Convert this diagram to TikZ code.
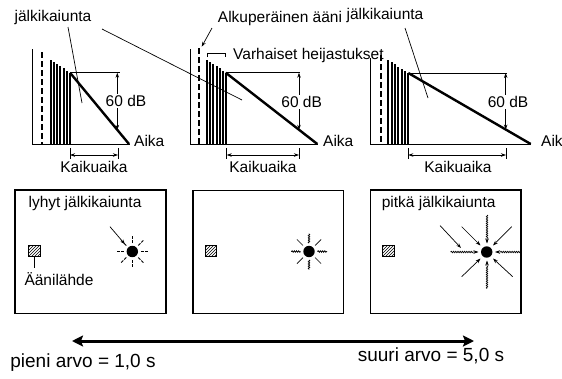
\documentclass[tikz,border=0pt]{standalone}
\usepackage{fontspec}
\setmainfont{Liberation Sans}
\usetikzlibrary{arrows.meta,patterns,decorations.pathmorphing}
\begin{document}
\begin{tikzpicture}[x=1pt,y=-1pt,
  lbl/.style={inner sep=0pt, font=\fontsize{15.5}{18}\selectfont},
  biglbl/.style={inner sep=0pt, font=\fontsize{19}{22}\selectfont},
  axisline/.style={line width=0.9pt},
  barline/.style={line width=2pt},
  decayline/.style={line width=2.4pt},
  dashline/.style={line width=2pt, dash pattern=on 6pt off 3pt},
  thinline/.style={line width=0.7pt},
  dimarrow/.style={line width=0.7pt, {Stealth[length=5pt,width=3.5pt]}-{Stealth[length=5pt,width=3.5pt]}},
  ptr/.style={line width=0.7pt, -{Stealth[length=5pt,width=3.5pt]}},
  roombox/.style={line width=1.6pt},
  srcbox/.style={pattern=north east lines, draw=black, line width=0.6pt},
  raydash/.style={line width=0.9pt, dash pattern=on 3pt off 1.2pt},
  wavy/.style={line width=0.8pt, decorate, decoration={snake, amplitude=0.7pt, segment length=2.2pt}},
  wavyarrow/.style={line width=0.7pt, -{Stealth[length=5pt,width=3.5pt]}, decorate, decoration={snake, amplitude=0.7pt, segment length=2.2pt, post length=5pt}},
  bigarrow/.style={line width=3pt, {Stealth[length=11pt,width=11pt,inset=2pt]}-{Stealth[length=11pt,width=11pt,inset=2pt]}}
]
\useasboundingbox (0,0) rectangle (562,378);

% ---------- Graph 1 ----------
\draw[axisline] (32.7,49) -- (32.7,144) -- (130,144);
\draw[dashline] (41.7,52) -- (41.7,144);
\foreach \i in {0,...,6} \draw[barline] ({50.7+\i*(70-50.7)/6},144) -- ({50.7+\i*(70-50.7)/6},{60+\i*12.7/6});
\draw[decayline] (70,72.7) -- (129,144);
\draw[thinline] (70,72.7) -- (120,72.7);
\draw[dimarrow] (117.3,72.7) -- (117.3,129.9);
\node[lbl, fill=white, inner sep=1pt] (db1) at (126,101) {60 dB};
\node[lbl, anchor=west] (aika1) at (134,141) {Aika};
\draw[thinline] (70,148) -- (70,159);
\draw[thinline] (118,148) -- (118,159);
\draw[dimarrow] (70,155) -- (118,155);
\node[lbl] (kk1) at (94,167) {Kaikuaika};

% ---------- Graph 2 ----------
\draw[axisline] (190,49) -- (190,144) -- (318,144);
\draw[dashline] (199,48) -- (199,144);
\foreach \i in {0,...,6} \draw[barline] ({207.3+\i*(225.7-207.3)/6},144) -- ({207.3+\i*(225.7-207.3)/6},{60+\i*12.7/6});
\draw[decayline] (225.7,72.7) -- (317.3,144);
\draw[thinline] (225.7,72.7) -- (300,72.7);
\draw[dimarrow] (299,72.7) -- (299,129.8);
\node[lbl, fill=white, inner sep=1pt] (db2) at (301.7,102) {60 dB};
\node[lbl, anchor=west] (aika2) at (323,141) {Aika};
\draw[thinline] (226.7,148) -- (226.7,159);
\draw[thinline] (299,148) -- (299,159);
\draw[dimarrow] (226.7,155) -- (299,155);
\node[lbl] (kk2) at (263,167) {Kaikuaika};

% ---------- Graph 3 ----------
\draw[axisline] (370.7,58) -- (370.7,144) -- (531,144);
\draw[dashline] (380.7,55) -- (380.7,144);
\foreach \i in {0,...,6} \draw[barline] ({388.3+\i*(408.3-388.3)/6},144) -- ({388.3+\i*(408.3-388.3)/6},{60+\i*13/6});
\draw[decayline] (408.3,73) -- (530.7,144);
\draw[thinline] (408.3,73) -- (506.7,73);
\draw[dimarrow] (505.7,73) -- (505.7,129.5);
\node[lbl, fill=white, inner sep=1pt] (db3) at (508,102) {60 dB};
\node[lbl, anchor=west] (aika3) at (541,141) {Aika};
\draw[thinline] (408.3,148) -- (408.3,159);
\draw[thinline] (506,148) -- (506,159);
\draw[dimarrow] (408.3,155) -- (506,155);
\node[lbl] (kk3) at (458,167) {Kaikuaika};

% ---------- Top labels ----------
\node[lbl] (jk1) at (53,17) {jälkikaiunta};
\node[lbl] (alk) at (280,18) {Alkuperäinen ääni};
\node[lbl] (jk2) at (385,15) {jälkikaiunta};
\node[lbl, anchor=west] (varh) at (233,55) {Varhaiset heijastukset};
\coordinate (t1) at (82,103);
\coordinate (t2) at (242,100);
\coordinate (t3) at (428,98);
\coordinate (orig) at (201.7,46.7);
\draw[thinline] (68,27) -- (t1);
\draw[thinline] (102,29) -- (t2);
\draw[thinline] (405,28) -- (t3);
\draw[ptr] (212,28) -- (orig);
\draw[thinline] (207,57) -- (207,53) -- (225,53) -- (225,57);

% ---------- Rooms ----------
\draw[roombox] (15,190) rectangle (166,313.5);
\draw[roombox] (193,190.5) rectangle (343.5,313.5);
\draw[roombox] (370.5,190) rectangle (521,313.5);

\node[lbl] (short) at (85,203) {lyhyt jälkikaiunta};
\node[lbl] (long) at (438.7,203) {pitkä jälkikaiunta};

\draw[srcbox] (28.3,245) rectangle (40,256);
\draw[srcbox] (205,245) rectangle (216.7,256);
\draw[srcbox] (382.7,245) rectangle (394.4,256);
\draw[thinline] (34.2,256) -- (34.2,268);
\node[lbl] (src) at (59,279.5) {Äänilähde};

% listener 1
\coordinate (c1) at (132.3,251.5);
\fill (c1) circle (5.7pt);
\foreach \a in {0,45,...,315} \draw[raydash] ([shift={(\a:8.5)}]c1) -- ([shift={(\a:16)}]c1);
\draw[ptr] (110,226.7) -- (125,244.3);

% listener 2
\coordinate (c2) at (309,251.5);
\fill (c2) circle (5.7pt);
\foreach \a in {0,90,180,270} \draw[wavy] ([shift={(\a:8.5)}]c2) -- ([shift={(\a:18)}]c2);
\foreach \a in {45,135,225,315} \draw[thinline] ([shift={(\a:8.5)}]c2) -- ([shift={(\a:17)}]c2);

% listener 3
\coordinate (c3) at (486.7,252);
\fill (c3) circle (5.7pt);
\draw[wavyarrow] (450.7,252) -- (478.5,252);
\draw[wavyarrow] (520.5,252) -- (495,252);
\draw[wavyarrow] (487,215) -- (487,243.5);
\draw[wavyarrow] (487,288.5) -- (487,260.5);
\draw[ptr] (461.7,226.7) -- (480.5,245.5);
\draw[ptr] (511.7,226.7) -- (493,245.5);
\draw[ptr] (461.7,276.7) -- (480.5,258.5);
\draw[ptr] (512.7,276.7) -- (493,258.5);
\draw[ptr] (440,225.5) -- (461,248);

% ---------- Bottom scale ----------
\coordinate (sL) at (72,341);
\coordinate (sR) at (474,341);
\draw[bigarrow] (sL) -- (sR);
\node[biglbl] (small) at (83,363) {pieni arvo = 1,0 s};
\node[biglbl] (large) at (431,356) {suuri arvo = 5,0 s};
\end{tikzpicture}
\end{document}
